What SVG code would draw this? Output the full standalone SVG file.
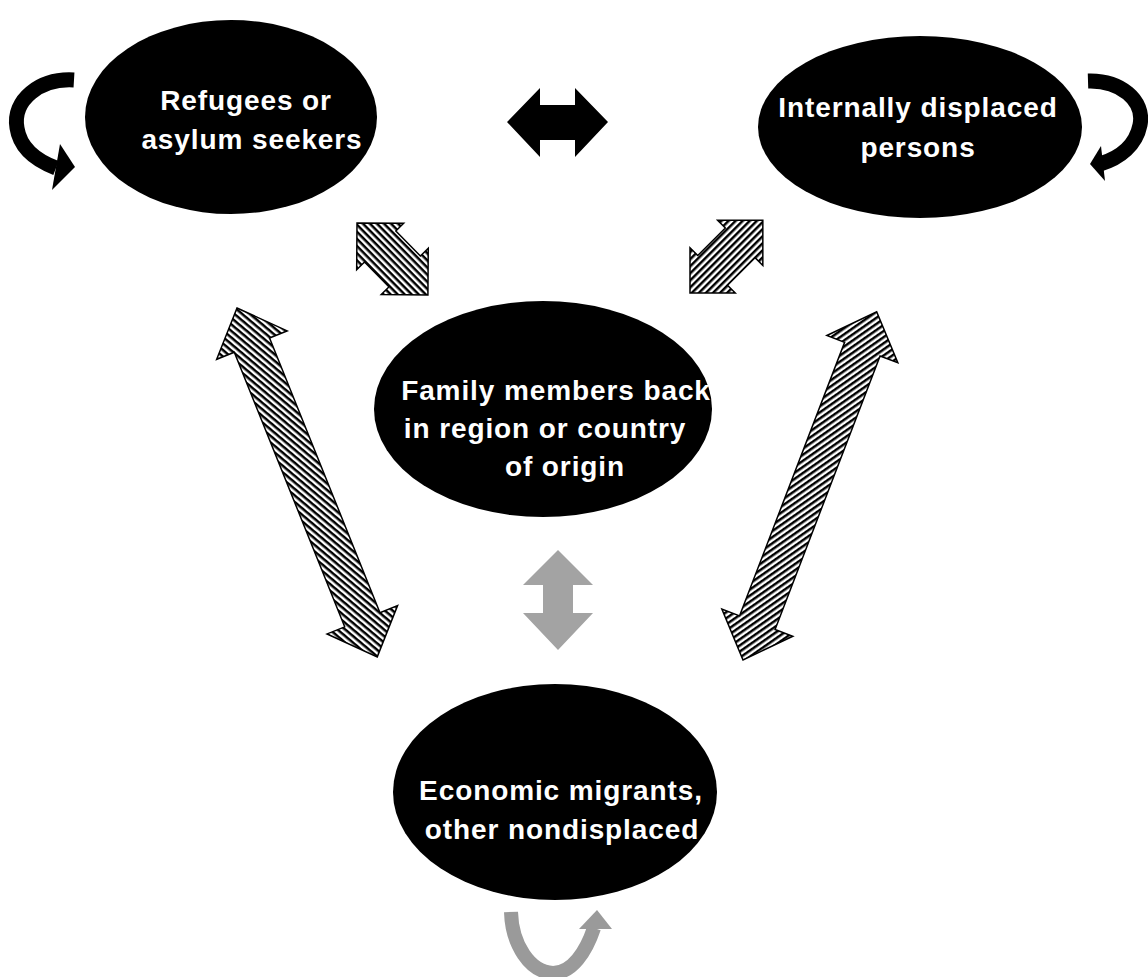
<svg xmlns="http://www.w3.org/2000/svg" width="1148" height="977" viewBox="0 0 1148 977">
<style>
.node{fill:#000}
.lbl{fill:#fff;font-family:"Liberation Sans",Arial,sans-serif;font-weight:bold;font-size:28px;letter-spacing:0.9px;text-anchor:middle}
.hatch{stroke:#000;stroke-width:1.5;stroke-linejoin:miter}
.curve{fill:none;stroke:#000;stroke-width:15}
.gcurve{fill:none;stroke:#9a9a9a;stroke-width:14}
</style>
<defs>
<pattern id="hA" patternUnits="userSpaceOnUse" width="5" height="5"><rect width="5" height="5" fill="#fff"/><rect width="5" height="2.5" fill="#000"/></pattern>
<pattern id="hL" patternUnits="userSpaceOnUse" width="5" height="5" patternTransform="rotate(-28)"><rect width="5" height="5" fill="#fff"/><rect width="5" height="2.5" fill="#000"/></pattern>
<pattern id="hR" patternUnits="userSpaceOnUse" width="5" height="5" patternTransform="rotate(34)"><rect width="5" height="5" fill="#fff"/><rect width="5" height="2.5" fill="#000"/></pattern>
</defs>
<rect width="1148" height="977" fill="#fff"/>
<g id="connectors">
  <path class="curve" d="M74,80 C40,78 12,100 17,128 C20,148 35,160 56,168"/>
  <polygon points="60,144 75,167 52,190" fill="#000"/>
  <path class="curve" d="M1088,81 C1120,80 1145,100 1140,125 C1136,145 1120,158 1100,164"/>
  <polygon points="1101,146 1090,164 1105,181" fill="#000"/>
  <path class="gcurve" d="M511,912 C512,945 530,972 553,973 C572,973 586,952 594,928"/>
  <polygon points="597,910 579,929 612,929" fill="#9a9a9a"/>
  <polygon points="507,122 540,88 540,105 575,105 575,88 608,122 575,157 575,140 540,140 540,157" fill="#000"/>
  <polygon points="558,550 593,585 573,585 573,613 593,613 558,650 523,613 543,613 543,585 523,585" fill="#a3a3a3"/>
  <g transform="translate(357,223) rotate(45.4)">
    <path class="hatch" fill="url(#hA)" d="M0,0 L33,-33 L33,-22 L68,-22 L68,-33 L101,0 L68,33 L68,22 L33,22 L33,33 Z"/>
  </g>
  <g transform="translate(690,293) rotate(-45)">
    <path class="hatch" fill="url(#hA)" d="M0,0 L32,-32 L32,-21 L71,-21 L71,-32 L103,0 L71,32 L71,21 L32,21 L32,32 Z"/>
  </g>
  <g transform="translate(237,308) rotate(68.1)">
    <path class="hatch" fill="url(#hL)" d="M0,0 L40,-38 L40,-19 L336,-19 L336,-38 L376,0 L336,38 L336,19 L40,19 L40,38 Z"/>
  </g>
  <g transform="translate(743,660) rotate(-69)">
    <path class="hatch" fill="url(#hR)" d="M0,0 L40,-38 L40,-19 L333,-19 L333,-38 L373,0 L333,38 L333,19 L40,19 L40,38 Z"/>
  </g>
</g>
<g id="refugees">
  <ellipse class="node" cx="231" cy="117" rx="146" ry="97"/>
  <text class="lbl" x="246" y="110">Refugees or</text>
  <text class="lbl" x="252" y="149">asylum seekers</text>
</g>
<g id="idp">
  <ellipse class="node" cx="920" cy="127" rx="162" ry="91"/>
  <text class="lbl" x="918" y="117">Internally displaced</text>
  <text class="lbl" x="918" y="157">persons</text>
</g>
<g id="family">
  <ellipse class="node" cx="543" cy="409" rx="169" ry="108"/>
  <text class="lbl" x="556" y="400">Family members back</text>
  <text class="lbl" x="545" y="438">in region or country</text>
  <text class="lbl" x="565" y="476">of origin</text>
</g>
<g id="economic">
  <ellipse class="node" cx="555" cy="792" rx="162" ry="108"/>
  <text class="lbl" x="561" y="800">Economic migrants,</text>
  <text class="lbl" x="562" y="839">other nondisplaced</text>
</g>
</svg>
